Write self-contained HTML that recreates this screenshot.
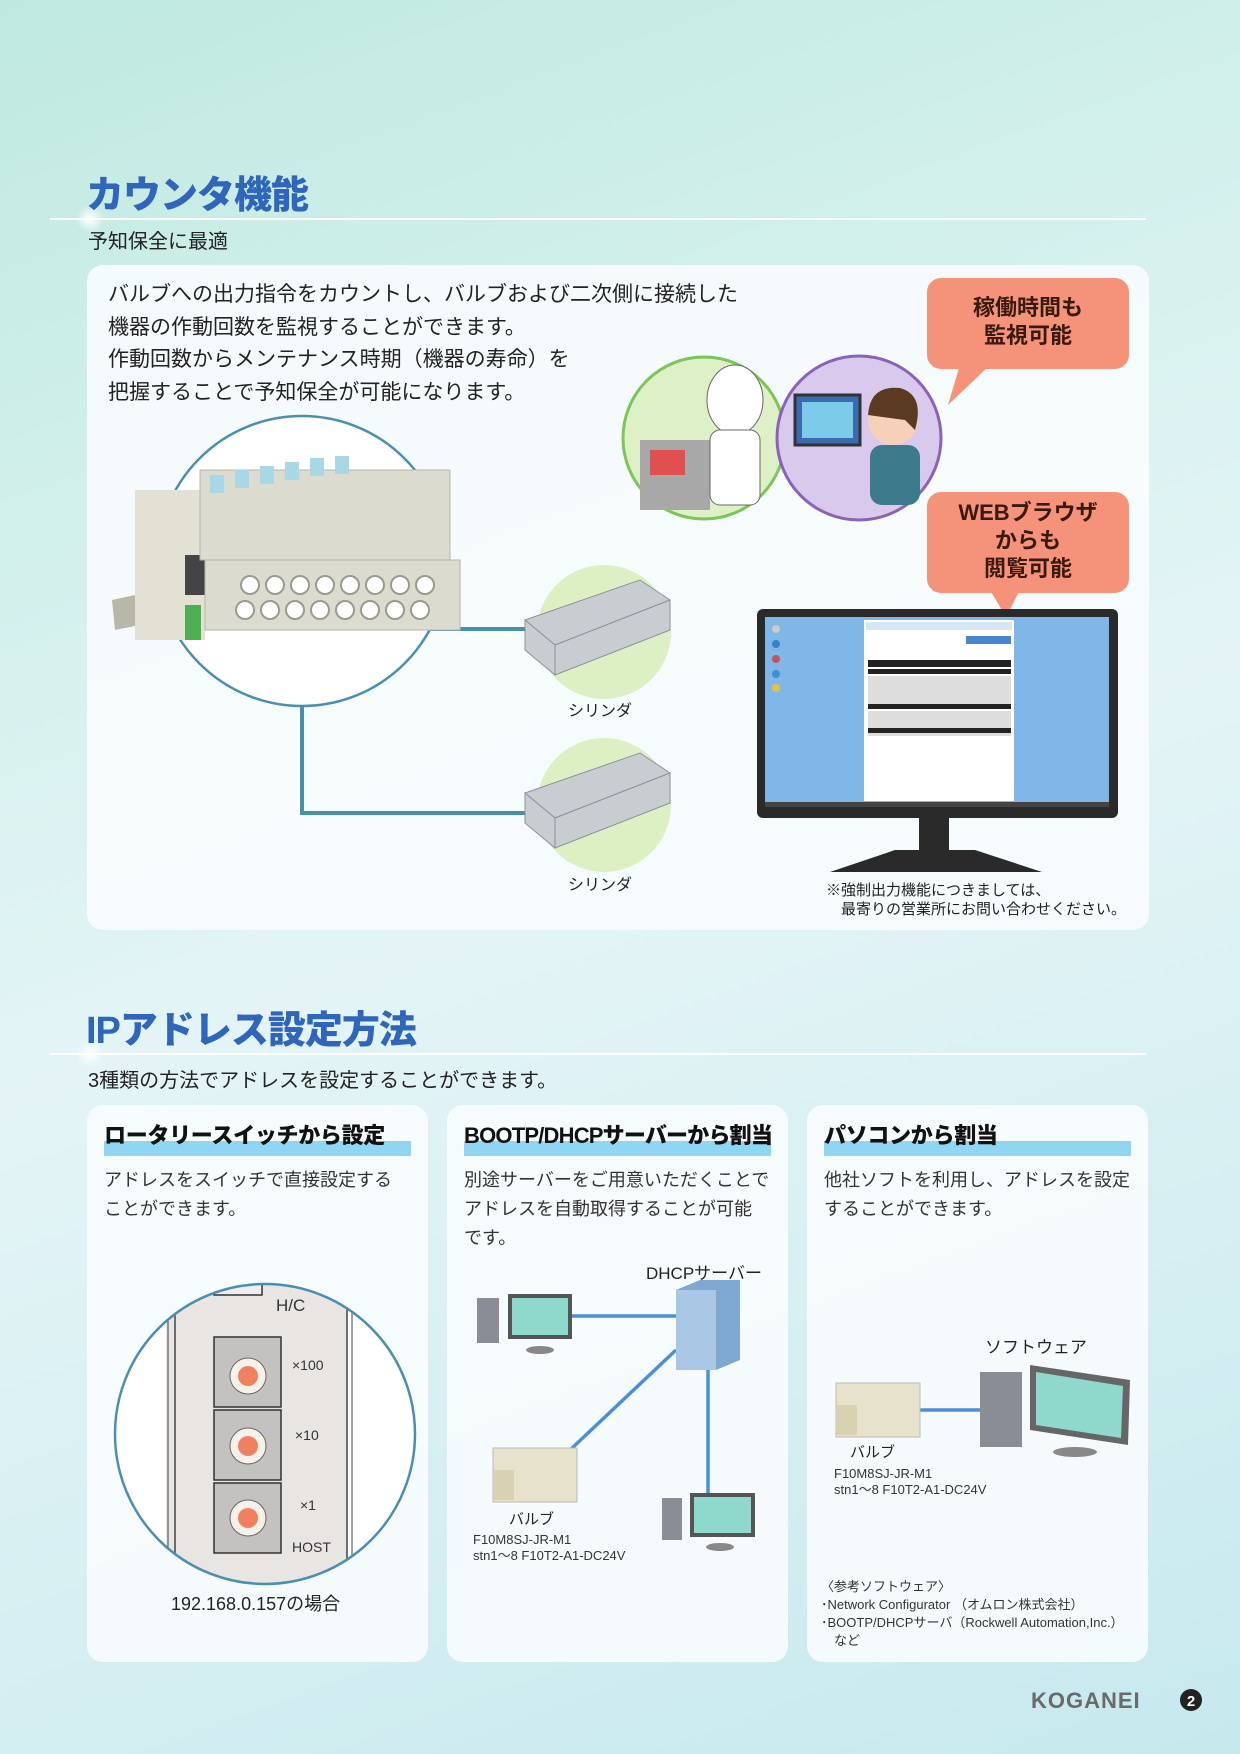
<!DOCTYPE html>
<html><head><meta charset="utf-8">
<style>
*{margin:0;padding:0;box-sizing:border-box}
body{width:1240px;height:1754px;position:relative;overflow:hidden;font-family:"Liberation Sans","Noto Sans CJK JP",sans-serif;color:#222;
background:linear-gradient(160deg,#bfe9df 0%,#d2f0ec 25%,#e4f4f6 50%,#d6eff2 75%,#c6e9ee 100%)}
.abs{position:absolute;white-space:nowrap}
.h1{font-size:38px;font-weight:900;color:#2f66bb;letter-spacing:-1px}
.sub{font-size:20px;color:#222}
.panel{position:absolute;background:rgba(248,252,253,0.93);border-radius:16px}
.p{font-size:21px;line-height:32.5px}
.bub{position:absolute;background:#f4937a;border-radius:14px;color:#3a1a10;font-weight:bold;font-size:22px;text-align:center;line-height:28px}
.hd{font-size:22px;font-weight:900;color:#111;letter-spacing:-0.3px}
.bar{position:absolute;height:15px;background:#8fd6f2}
.bt{font-size:18px;line-height:29px;color:#333}
.sm{font-size:13px;color:#333;line-height:16px}
</style></head><body>
<svg class="abs" style="left:0;top:0" width="1240" height="1754">
<defs><radialGradient id="sp"><stop offset="0" stop-color="#fff"/><stop offset="1" stop-color="#fff" stop-opacity="0"/></radialGradient></defs>
<rect x="50" y="218" width="1096" height="2" fill="#fff"/>
<circle cx="90" cy="219" r="14" fill="url(#sp)"/>
<rect x="50" y="1053" width="1096" height="2" fill="#fff"/>
<circle cx="90" cy="1054" r="14" fill="url(#sp)"/>
</svg>

<div class="abs h1" style="left:86px;top:164px">カウンタ機能</div>
<div class="abs sub" style="left:88px;top:225px">予知保全に最適</div>
<div class="panel" style="left:87px;top:265px;width:1062px;height:665px"></div>
<div class="abs p" style="left:108px;top:279px">バルブへの出力指令をカウントし、バルブおよび二次側に接続した<br>機器の作動回数を監視することができます。<br>作動回数からメンテナンス時期（機器の寿命）を<br>把握することで予知保全が可能になります。</div>

<svg class="abs" style="left:0;top:0" width="1240" height="940">
<polyline points="302,700 302,813 526,813" fill="none" stroke="#4a8fa8" stroke-width="4"/>
<line x1="335" y1="629" x2="531" y2="629" stroke="#4a8fa8" stroke-width="4"/>
<circle cx="302" cy="561" r="145" fill="#fff" stroke="#4b8fb0" stroke-width="2.5"/>
<polygon points="112,600 135,595 140,625 115,630" fill="#b9b7a8"/>
<rect x="135" y="490" width="70" height="150" fill="#e3e1d3"/>
<rect x="185" y="555" width="22" height="40" fill="#444"/>
<rect x="185" y="605" width="16" height="35" fill="#4caf50"/>
<g fill="#dcdbd0" stroke="#b8b6a8">
<rect x="200" y="470" width="250" height="90"/>
<rect x="205" y="560" width="255" height="70"/>
</g>
<g fill="#fff" stroke="#9a9a90" stroke-width="2">
<circle cx="250" cy="585" r="9"/><circle cx="275" cy="585" r="9"/><circle cx="300" cy="585" r="9"/><circle cx="325" cy="585" r="9"/><circle cx="350" cy="585" r="9"/><circle cx="375" cy="585" r="9"/><circle cx="400" cy="585" r="9"/><circle cx="425" cy="585" r="9"/>
<circle cx="245" cy="610" r="9"/><circle cx="270" cy="610" r="9"/><circle cx="295" cy="610" r="9"/><circle cx="320" cy="610" r="9"/><circle cx="345" cy="610" r="9"/><circle cx="370" cy="610" r="9"/><circle cx="395" cy="610" r="9"/><circle cx="420" cy="610" r="9"/>
</g>
<g fill="#a8d8e8"><rect x="210" y="475" width="14" height="18"/><rect x="235" y="470" width="14" height="18"/><rect x="260" y="466" width="14" height="18"/><rect x="285" y="462" width="14" height="18"/><rect x="310" y="458" width="14" height="18"/><rect x="335" y="456" width="14" height="18"/></g>
<circle cx="604" cy="632" r="67" fill="#dcf0c4"/>
<circle cx="604" cy="805" r="67" fill="#dcf0c4"/>
<g fill="#c9cdd2" stroke="#8c939a">
<polygon points="525,620 640,580 670,600 555,645"/>
<polygon points="525,620 555,645 555,675 525,650"/>
<polygon points="555,645 670,600 670,630 555,675"/>
<polygon points="525,793 640,753 670,773 555,818"/>
<polygon points="525,793 555,818 555,848 525,823"/>
<polygon points="555,818 670,773 670,803 555,848"/>
</g>
<circle cx="704" cy="438" r="81" fill="#ddf0c6" stroke="#7cc55a" stroke-width="3"/>
<rect x="640" y="440" width="70" height="70" fill="#a8a8a8"/>
<rect x="650" y="450" width="35" height="25" fill="#e05050"/>
<ellipse cx="735" cy="400" rx="28" ry="35" fill="#fff" stroke="#666"/>
<rect x="710" y="430" width="50" height="75" rx="10" fill="#fff" stroke="#666"/>
<circle cx="859" cy="438" r="82" fill="#d9c9ec" stroke="#8a63b8" stroke-width="3"/>
<rect x="795" y="395" width="65" height="50" fill="#3a6ab0" stroke="#333" stroke-width="3"/>
<rect x="802" y="402" width="51" height="36" fill="#7ccbe8"/>
<circle cx="893" cy="420" r="25" fill="#f6d0b8"/>
<path d="M868,415 Q870,385 900,388 Q925,395 915,430 L905,420 Z" fill="#5a3a20"/>
<rect x="870" y="445" width="50" height="60" rx="12" fill="#3a7a8a"/>
<polygon points="960,365 990,365 948,405" fill="#f4937a"/>
<polygon points="990,590 1020,590 1006,617" fill="#f4937a"/>
<rect x="757" y="609" width="361" height="209" rx="6" fill="#2a2a2a"/>
<rect x="765" y="617" width="344" height="185" fill="#80b6e8"/>
<rect x="765" y="802" width="344" height="5" fill="#444"/>
<rect x="864" y="620" width="150" height="181" fill="#fff"/>
<rect x="866" y="622" width="146" height="8" fill="#d8e6f4"/>
<rect x="966" y="636" width="45" height="8" fill="#4a86d0"/>
<rect x="868" y="660" width="143" height="7" fill="#222"/>
<rect x="868" y="669" width="143" height="5" fill="#222"/>
<g fill="#ddd"><rect x="868" y="676" width="143" height="28"/><rect x="868" y="711" width="143" height="25"/></g>
<rect x="868" y="704" width="143" height="5" fill="#222"/>
<rect x="868" y="728" width="143" height="5" fill="#222"/>
<circle cx="776" cy="629" r="4" fill="#ccc"/>
<circle cx="776" cy="644" r="4" fill="#3a80c8"/><circle cx="776" cy="659" r="4" fill="#c85060"/><circle cx="776" cy="674" r="4" fill="#3a90d0"/><circle cx="776" cy="688" r="4" fill="#e8c040"/>
<rect x="919" y="818" width="30" height="32" fill="#2a2a2a"/>
<polygon points="895,850 975,850 1042,872 830,872" fill="#2a2a2a"/>
</svg>
<div class="bub" style="left:927px;top:278px;width:202px;height:91px;padding-top:16px">稼働時間も<br>監視可能</div>
<div class="bub" style="left:927px;top:492px;width:202px;height:101px;padding-top:7px">WEBブラウザ<br>からも<br>閲覧可能</div>
<div class="abs" style="left:568px;top:697px;font-size:16px">シリンダ</div>
<div class="abs" style="left:568px;top:871px;font-size:16px">シリンダ</div>
<div class="abs" style="left:826px;top:881px;font-size:15px;line-height:19px">※強制出力機能につきましては、<br>　最寄りの営業所にお問い合わせください。</div>

<div class="abs h1" style="left:86px;top:999px">IPアドレス設定方法</div>
<div class="abs sub" style="left:88px;top:1064px">3種類の方法でアドレスを設定することができます。</div>

<div class="panel" style="left:87px;top:1105px;width:341px;height:557px"></div>
<div class="panel" style="left:447px;top:1105px;width:341px;height:557px"></div>
<div class="panel" style="left:807px;top:1105px;width:341px;height:557px"></div>
<div class="bar" style="left:104px;top:1141px;width:307px"></div>
<div class="bar" style="left:464px;top:1141px;width:307px"></div>
<div class="bar" style="left:824px;top:1141px;width:307px"></div>
<div class="abs hd" style="left:104px;top:1118px">ロータリースイッチから設定</div>
<div class="abs hd" style="left:464px;top:1118px;letter-spacing:-0.8px">BOOTP/DHCPサーバーから割当</div>
<div class="abs hd" style="left:824px;top:1118px">パソコンから割当</div>
<div class="abs bt" style="left:104px;top:1166px">アドレスをスイッチで直接設定する<br>ことができます。</div>
<div class="abs bt" style="left:464px;top:1166px">別途サーバーをご用意いただくことで<br>アドレスを自動取得することが可能<br>です。</div>
<div class="abs bt" style="left:824px;top:1166px">他社ソフトを利用し、アドレスを設定<br>することができます。</div>

<svg class="abs" style="left:0;top:0" width="1240" height="1754">
<defs><clipPath id="cc"><circle cx="265" cy="1434" r="150"/></clipPath></defs>
<circle cx="265" cy="1434" r="150" fill="#fff"/>
<g clip-path="url(#cc)">
<rect x="166" y="1270" width="94" height="330" fill="#e8e5e2"/>
<rect x="175" y="1270" width="172" height="330" fill="#e8e5e2" stroke="#444" stroke-width="1.5"/>
<line x1="168" y1="1270" x2="168" y2="1600" stroke="#444"/><line x1="352" y1="1270" x2="352" y2="1600" stroke="#444"/>
<rect x="214" y="1270" width="48" height="25" fill="#eee" stroke="#333" stroke-width="1.5"/>
<g fill="#c4c2c0" stroke="#333" stroke-width="1.5"><rect x="214" y="1337" width="67" height="70"/><rect x="214" y="1410" width="67" height="70"/><rect x="214" y="1483" width="67" height="70"/></g>
<g fill="#f6f2ea" stroke="#666"><circle cx="248" cy="1376" r="18"/><circle cx="248" cy="1446" r="18"/><circle cx="248" cy="1518" r="18"/></g>
<g fill="#f08060"><circle cx="248" cy="1376" r="10"/><circle cx="248" cy="1446" r="10"/><circle cx="248" cy="1518" r="10"/></g>
</g>
<circle cx="265" cy="1434" r="150" fill="none" stroke="#4b8fb0" stroke-width="2.5"/>
<text x="276" y="1311" font-size="17" font-family="Liberation Sans" fill="#333">H/C</text>
<text x="292" y="1370" font-size="14" font-family="Liberation Sans" fill="#333">×100</text>
<text x="295" y="1440" font-size="14" font-family="Liberation Sans" fill="#333">×10</text>
<text x="300" y="1510" font-size="14" font-family="Liberation Sans" fill="#333">×1</text>
<text x="292" y="1552" font-size="14" font-family="Liberation Sans" fill="#333">HOST</text>
<g stroke="#4a90d9" stroke-width="3.5" fill="none">
<line x1="570" y1="1316" x2="680" y2="1316"/>
<line x1="676" y1="1350" x2="570" y2="1450"/>
<line x1="708" y1="1370" x2="708" y2="1495"/>
<line x1="920" y1="1410" x2="985" y2="1410"/>
</g>
<polygon points="676,1290 700,1280 740,1280 740,1360 716,1370 676,1370" fill="#7fa8d0"/>
<rect x="676" y="1290" width="40" height="80" fill="#a8c8e6"/>
<rect x="477" y="1298" width="22" height="45" fill="#8a8d95"/>
<rect x="508" y="1294" width="64" height="45" fill="#555"/><rect x="512" y="1298" width="56" height="37" fill="#8ed8cc"/>
<ellipse cx="540" cy="1350" rx="14" ry="4" fill="#888"/>
<rect x="662" y="1498" width="20" height="42" fill="#8a8d95"/>
<rect x="690" y="1493" width="65" height="44" fill="#555"/><rect x="694" y="1497" width="57" height="36" fill="#8ed8cc"/>
<ellipse cx="720" cy="1547" rx="14" ry="4" fill="#888"/>
<rect x="980" y="1372" width="42" height="75" fill="#8a8d95"/>
<polygon points="1030,1365 1130,1380 1128,1445 1030,1430" fill="#666"/>
<polygon points="1036,1372 1123,1386 1121,1438 1036,1425" fill="#8ed8cc"/>
<ellipse cx="1075" cy="1452" rx="22" ry="5" fill="#888"/>
<rect x="493" y="1448" width="84" height="54" fill="#e6e2cc" stroke="#bbb"/>
<rect x="494" y="1470" width="20" height="30" fill="#d8d2b0"/>
<rect x="836" y="1383" width="84" height="54" fill="#e6e2cc" stroke="#bbb"/>
<rect x="837" y="1405" width="20" height="30" fill="#d8d2b0"/>
<text x="1031" y="1708" font-size="22" font-weight="bold" font-family="Liberation Sans" fill="#6a6a6a" letter-spacing="1">KOGANEI</text>
<circle cx="1191" cy="1700" r="11" fill="#222"/>
<text x="1191" y="1706" font-size="15" font-weight="bold" font-family="Liberation Sans" fill="#fff" text-anchor="middle">2</text>
</svg>
<div class="abs" style="left:171px;top:1590px;font-size:18px">192.168.0.157の場合</div>
<div class="abs" style="left:646px;top:1259px;font-size:17px">DHCPサーバー</div>
<div class="abs" style="left:509px;top:1508px;font-size:15px">バルブ</div>
<div class="abs sm" style="left:473px;top:1532px">F10M8SJ-JR-M1<br>stn1～8 F10T2-A1-DC24V</div>
<div class="abs" style="left:985px;top:1333px;font-size:17px">ソフトウェア</div>
<div class="abs" style="left:850px;top:1441px;font-size:15px">バルブ</div>
<div class="abs sm" style="left:834px;top:1466px">F10M8SJ-JR-M1<br>stn1～8 F10T2-A1-DC24V</div>
<div class="abs sm" style="left:821px;top:1578px;line-height:18px">〈参考ソフトウェア〉<br>･Network Configurator （オムロン株式会社）<br>･BOOTP/DHCPサーバ（Rockwell Automation,Inc.）<br>　など</div>
</body></html>
